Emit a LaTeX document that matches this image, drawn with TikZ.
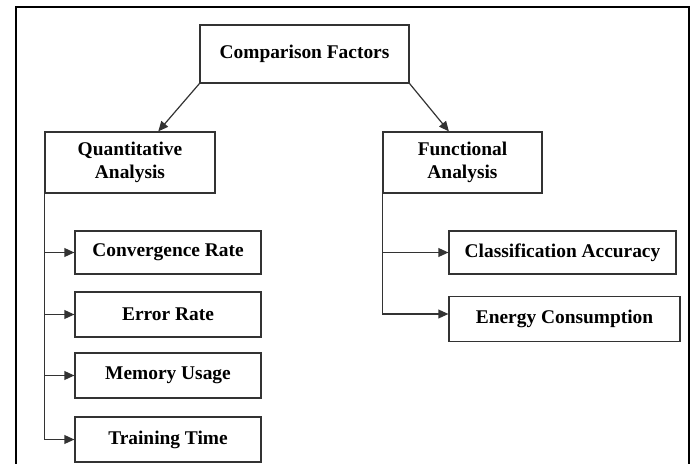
\documentclass[tikz,border=0pt]{standalone}
\usepackage{fontspec}
\setmainfont{Liberation Serif}
\usetikzlibrary{arrows.meta,calc}
\begin{document}
\begin{tikzpicture}[x=0.5pt,y=-0.5pt,
		box/.style={draw=black!80,line width=0.6pt,inner sep=0pt,align=center,
			font=\bfseries\fontsize{9.7}{11.4}\selectfont},
		link/.style={draw=black!80,line width=0.6pt,-{Triangle[length=5pt,width=4.4pt]}}]
		\clip (0,0) rectangle (694,464);
		\draw[line width=1pt] (16,7) rectangle (689,480);

		\node (top)[box,minimum width=104.5pt,minimum height=29pt] at (304.5,54) {Comparison Factors};
		\node (quant)[box,minimum width=85pt,minimum height=30.5pt] at (130,162.5) {Quantitative\\Analysis};
		\node (func)[box,minimum width=79.5pt,minimum height=30.5pt] at (462.5,162.5) {Functional\\Analysis};

		\node (conv)[box,minimum width=93pt,minimum height=21.5pt] at (168,252.5) {Convergence Rate};
		\node (err)[box,minimum width=93pt,minimum height=22.5pt] at (168,314.5) {Error Rate};
		\node (mem)[box,minimum width=93pt,minimum height=22.5pt] at (168,375.5) {Memory Usage};
		\node (train)[box,minimum width=93pt,minimum height=22.5pt] at (168,439.5) {Training Time};

		\node (cls)[box,minimum width=113.5pt,minimum height=21.5pt] at (562.5,252.5) {Classification Accuracy};
		\node (ene)[box,minimum width=115.5pt,minimum height=22.5pt] at (564.5,319) {Energy Consumption};

		\draw[link] (top.south west) -- ($(quant.north west)!0.665!(quant.north east)$);
		\draw[link] (top.south east) -- ($(func.north west)!0.415!(func.north east)$);

		\foreach \n in {conv,err,mem,train}
			\draw[link] (quant.south west) |- (\n.west);
		\draw[link] (func.south west) |- (cls.west);
		\draw[link] (func.south west) |- ($(ene.west)+(0,-5)$);
	\end{tikzpicture}
\end{document}
